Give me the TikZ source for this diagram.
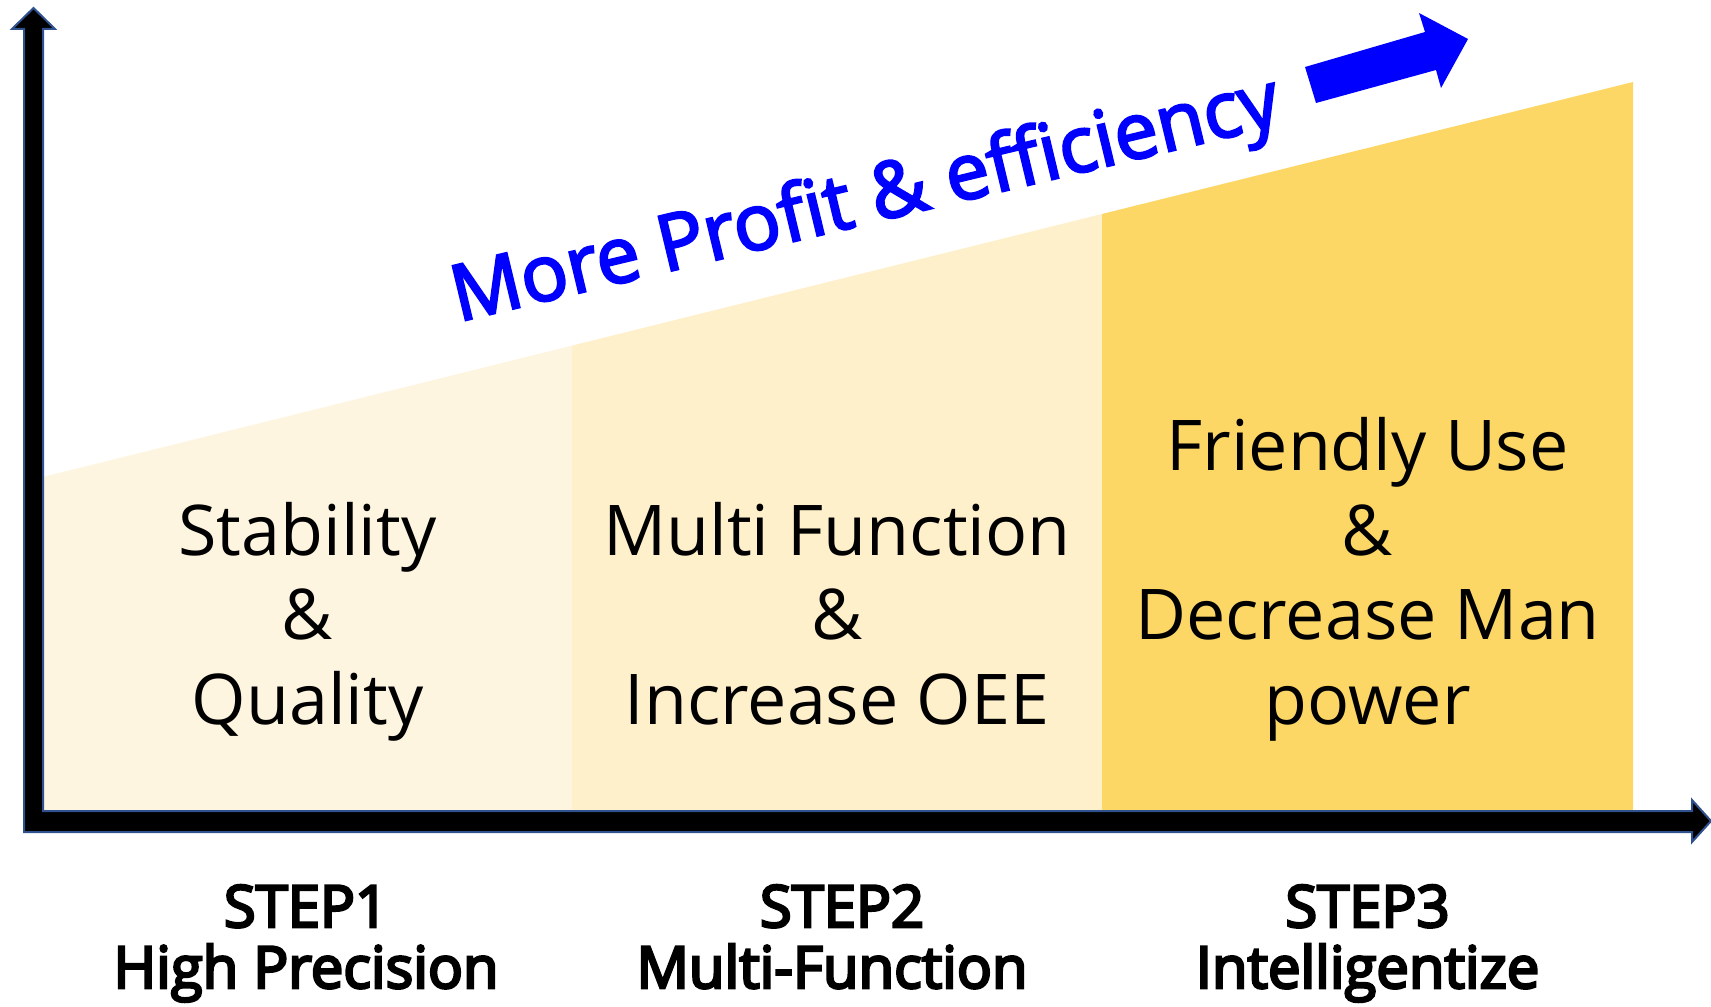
\documentclass[tikz,border=0pt]{standalone}
\usepackage{fontspec}
\setmainfont{Open Sans}
\newfontfamily\semibfont[FakeBold=3]{Open Sans}
\newfontfamily\stepfont[FakeBold=4.5]{Open Sans}
\definecolor{fillA}{HTML}{FEF5E0}
\definecolor{fillB}{HTML}{FFF0CC}
\definecolor{fillC}{HTML}{FDD766}
\definecolor{axisline}{HTML}{2F528F}
\definecolor{pureblue}{HTML}{0000FF}
\tikzset{
  stagetext/.style={anchor=base, inner sep=0pt, font=\fontsize{35}{42}\selectfont},
  steptext/.style={anchor=base, inner sep=0pt, font=\stepfont\fontsize{29}{34}\selectfont},
  axisarrow/.style={fill=black, draw=axisline, line width=1pt, line join=miter},
}
\begin{document}
\begin{tikzpicture}[x=0.5pt,y=-0.5pt]
\useasboundingbox (0,0) rectangle (1711,1006);
% stage areas
\fill[fillA] (43,811) -- (43,477) -- (572,345.6) -- (572,811) -- cycle;
\fill[fillB] (572,811) -- (572,345.6) -- (1102,214) -- (1102,811) -- cycle;
\fill[fillC] (1102,811) -- (1102,214) -- (1633,82) -- (1633,811) -- cycle;
% axes
\draw[axisarrow] (24,832) -- (24,29) -- (12,29) -- (33.5,8) -- (55,29) -- (43,29)
  -- (43,811) -- (1692,811) -- (1692,800) -- (1711,821) -- (1692,842) -- (1692,832) -- cycle;
% blue arrow
\fill[pureblue] (1305,67) -- (1425,32) -- (1419,13) -- (1468,39) -- (1441,88) -- (1436,70) -- (1316,103) -- cycle;
\node[anchor=base west, inner sep=0pt, rotate=13.5, text=pureblue,
  font=\semibfont\fontsize{39}{45}\selectfont] (title) at (458,322) {More Profit \& efficiency};
% stage texts
\node[stagetext] (s1a) at (307.5,555) {Stability};
\node[stagetext] (s1b) at (307.5,639) {\&};
\node[stagetext] (s1c) at (307.5,724) {Quality};
\node[stagetext] (s2a) at (837,555) {Multi Function};
\node[stagetext] (s2b) at (837,639) {\&};
\node[stagetext] (s2c) at (837,724) {Increase OEE};
\node[stagetext] (s3a) at (1367.5,470) {Friendly Use};
\node[stagetext] (s3b) at (1367.5,555) {\&};
\node[stagetext] (s3c) at (1367.5,639) {Decrease Man};
\node[stagetext] (s3d) at (1367.5,724) {power};
% step labels
\node[steptext] (p1a) at (306,927) {STEP1};
\node[steptext] (p1b) at (306,988) {High Precision};
\node[steptext] (p2a) at (842,927) {STEP2};
\node[steptext] (p2b) at (832,988) {Multi-Function};
\node[steptext] (p3a) at (1367.5,927) {STEP3};
\node[steptext] (p3b) at (1367.5,988) {Intelligentize};
\end{tikzpicture}
\end{document}
